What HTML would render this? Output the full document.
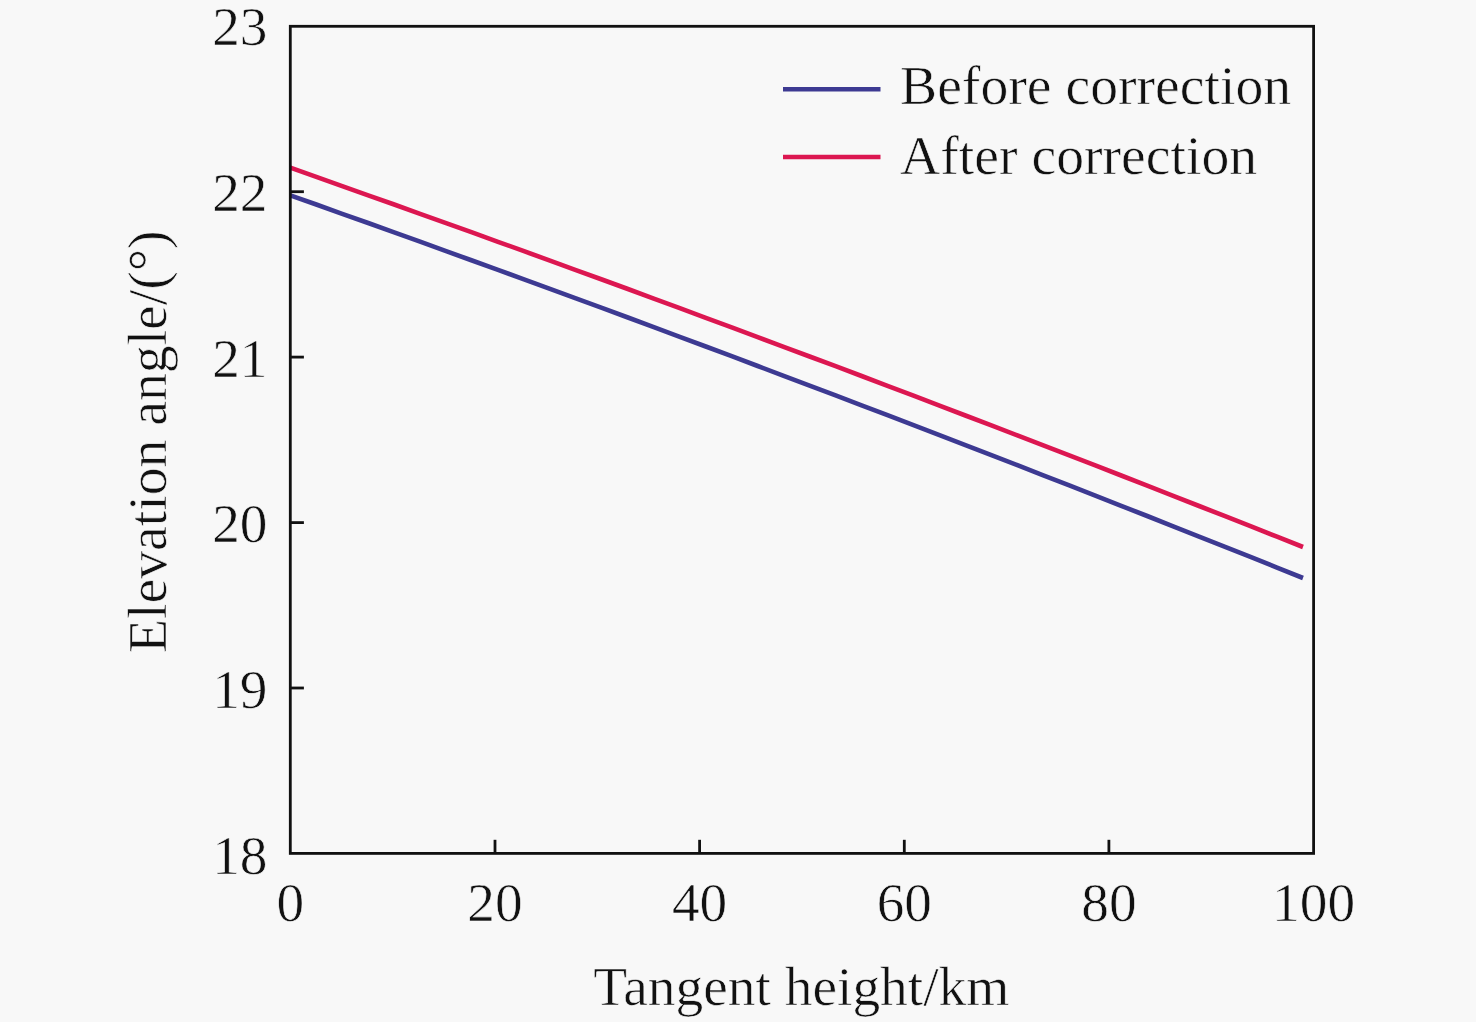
<!DOCTYPE html>
<html><head><meta charset="utf-8"><style>
html,body{margin:0;padding:0;background:#f8f8f8;}
body{width:1476px;height:1022px;overflow:hidden;}
svg{display:block;}
text{font-family:"Liberation Serif",serif;font-size:55.7px;fill:#111;stroke:#f8f8f8;stroke-width:0.6px;}
text.d{font-size:55.3px;}
</style></head><body>
<svg width="1476" height="1022" viewBox="0 0 1476 1022">
<rect x="0" y="0" width="1476" height="1022" fill="#f8f8f8"/>
<polyline points="290.3,167.7 316.3,176.9 342.2,186.1 368.2,195.3 394.2,204.5 420.1,213.8 446.1,223.1 472.1,232.4 498.0,241.8 524.0,251.2 550.0,260.6 575.9,270.1 601.9,279.5 627.9,289.0 653.8,298.6 679.8,308.2 705.8,317.8 731.7,327.4 757.7,337.1 783.7,346.8 809.6,356.5 835.6,366.2 861.6,376.0 887.5,385.8 913.5,395.7 939.5,405.6 965.4,415.5 991.4,425.4 1017.4,435.4 1043.3,445.4 1069.3,455.4 1095.3,465.4 1121.2,475.5 1147.2,485.6 1173.2,495.8 1199.1,506.0 1225.1,516.2 1251.1,526.4 1277.0,536.7 1303.0,547.0" fill="none" stroke="#dc1751" stroke-width="4.6"/>
<polyline points="290.3,195.3 316.3,204.5 342.2,213.8 368.2,223.0 394.2,232.3 420.1,241.7 446.1,251.1 472.1,260.5 498.0,269.9 524.0,279.4 550.0,288.9 575.9,298.4 601.9,307.9 627.9,317.5 653.8,327.2 679.8,336.8 705.8,346.5 731.7,356.2 757.7,366.0 783.7,375.8 809.6,385.6 835.6,395.4 861.6,405.3 887.5,415.2 913.5,425.1 939.5,435.1 965.4,445.1 991.4,455.2 1017.4,465.2 1043.3,475.3 1069.3,485.4 1095.3,495.6 1121.2,505.8 1147.2,516.0 1173.2,526.3 1199.1,536.6 1225.1,546.9 1251.1,557.2 1277.0,567.6 1303.0,578.0" fill="none" stroke="#3d3a92" stroke-width="4.6"/>
<g stroke="#111" stroke-width="2.8" fill="none">
<rect x="290.3" y="26.3" width="1023.3" height="827.1"/>
<line x1="495.0" y1="853.4" x2="495.0" y2="839.8"/><line x1="699.6" y1="853.4" x2="699.6" y2="839.8"/><line x1="904.3" y1="853.4" x2="904.3" y2="839.8"/><line x1="1108.9" y1="853.4" x2="1108.9" y2="839.8"/><line x1="290.3" y1="191.7" x2="303.9" y2="191.7"/><line x1="290.3" y1="357.1" x2="303.9" y2="357.1"/><line x1="290.3" y1="522.6" x2="303.9" y2="522.6"/><line x1="290.3" y1="688.0" x2="303.9" y2="688.0"/>
</g>
<line x1="783" y1="89.3" x2="880.5" y2="89.3" stroke="#3d3a92" stroke-width="4.6"/>
<line x1="783" y1="157" x2="880.5" y2="157" stroke="#dc1751" stroke-width="4.6"/>
<text class="d" x="267.5" y="45.3" text-anchor="end">23</text><text class="d" x="267.5" y="211.0" text-anchor="end">22</text><text class="d" x="267.5" y="376.6" text-anchor="end">21</text><text class="d" x="267.5" y="542.3" text-anchor="end">20</text><text class="d" x="267.5" y="708.0" text-anchor="end">19</text><text class="d" x="267.5" y="873.6" text-anchor="end">18</text>
<text class="d" x="290.3" y="921.4" text-anchor="middle">0</text><text class="d" x="495.0" y="921.4" text-anchor="middle">20</text><text class="d" x="699.6" y="921.4" text-anchor="middle">40</text><text class="d" x="904.3" y="921.4" text-anchor="middle">60</text><text class="d" x="1108.9" y="921.4" text-anchor="middle">80</text><text class="d" x="1313.6" y="921.4" text-anchor="middle">100</text>
<text x="900" y="103.6">Before correction</text>
<text x="900" y="173.9">After correction</text>
<text x="801.3" y="1005" text-anchor="middle" style="font-size:55.4px">Tangent height/km</text>
<text transform="translate(166,441.7) rotate(-90)" text-anchor="middle">Elevation angle/(°)</text>
</svg>
</body></html>
